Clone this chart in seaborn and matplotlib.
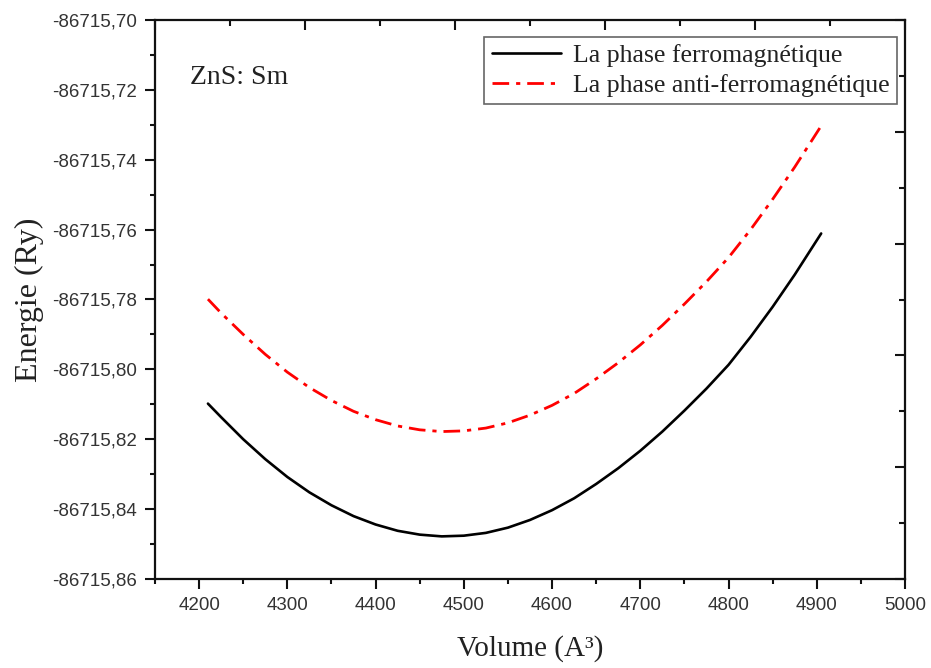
import matplotlib
matplotlib.use("Agg")
import matplotlib.pyplot as plt
import matplotlib.ticker as mticker
import seaborn as sns
import pandas as pd

# ---- data ----
volume = [4210, 4225, 4250, 4275, 4300, 4325, 4350, 4375, 4400, 4425,
          4450, 4475, 4500, 4525, 4550, 4575, 4600, 4625, 4650, 4675,
          4700, 4725, 4750, 4775, 4800, 4825, 4850, 4875, 4905]
energy_ferro = [-86715.8098, -86715.8137, -86715.8200, -86715.8257, -86715.8308,
                -86715.8352, -86715.8389, -86715.8420, -86715.8444, -86715.8462,
                -86715.8473, -86715.8478, -86715.8476, -86715.8468, -86715.8453,
                -86715.8431, -86715.8403, -86715.8369, -86715.8328, -86715.8283,
                -86715.8233, -86715.8178, -86715.8118, -86715.8055, -86715.7987,
                -86715.7907, -86715.7821, -86715.7729, -86715.7611]
energy_antiferro = [-86715.7799, -86715.7839, -86715.7900, -86715.7957, -86715.8008,
                    -86715.8052, -86715.8089, -86715.8120, -86715.8144, -86715.8162,
                    -86715.8173, -86715.8178, -86715.8176, -86715.8168, -86715.8153,
                    -86715.8131, -86715.8103, -86715.8069, -86715.8027, -86715.7981,
                    -86715.7930, -86715.7874, -86715.7813, -86715.7749, -86715.7680,
                    -86715.7600, -86715.7513, -86715.7421, -86715.7303]
label_ferro = "La phase ferromagnétique"
label_antiferro = "La phase anti-ferromagnétique"
annotation = "ZnS: Sm"
x_ticks = [4200, 4300, 4400, 4500, 4600, 4700, 4800, 4900, 5000]
y_ticks = [-86715.86, -86715.84, -86715.82, -86715.80, -86715.78,
           -86715.76, -86715.74, -86715.72, -86715.70]

df = pd.DataFrame({
    "Volume": volume + volume,
    "Energie": energy_ferro + energy_antiferro,
    "Phase": [label_ferro] * len(volume) + [label_antiferro] * len(volume),
})

sns.set_style("ticks")
plt.rcParams["font.family"] = ["Liberation Serif", "DejaVu Serif"]

W, H = 931, 668
fig = plt.figure(figsize=(W / 100, H / 100), dpi=100)
ax = fig.add_axes([155 / W, 1 - 579 / H, 750 / W, 559 / H])

sns.lineplot(data=df[df.Phase == label_ferro], x="Volume", y="Energie",
             color="black", linewidth=1.9, label=label_ferro, ax=ax)
sns.lineplot(data=df[df.Phase == label_antiferro], x="Volume", y="Energie",
             color="#ff0000", linewidth=2.0, label=label_antiferro, ax=ax)
ax.lines[1].set_dashes((6, 2.5, 1.5, 2.5))

ax.set_xlim(4150, 5000)
ax.set_ylim(-86715.86, -86715.70)
ax.xaxis.set_major_locator(mticker.FixedLocator(x_ticks))
ax.xaxis.set_minor_locator(mticker.MultipleLocator(50))
ax.yaxis.set_major_locator(mticker.FixedLocator(y_ticks))
ax.yaxis.set_minor_locator(mticker.MultipleLocator(0.01))
ax.yaxis.set_major_formatter(mticker.FuncFormatter(lambda v, p: f"{v:.2f}".replace(".", ",")))
ax.xaxis.set_major_formatter(mticker.FuncFormatter(lambda v, p: f"{v:.0f}"))

for s in ax.spines.values():
    s.set_linewidth(1.6)
    s.set_color("#111111")
ax.tick_params(axis="both", which="major", direction="out", length=7, width=1.5,
               labelsize=13.5, colors="#111111", labelcolor="#333333", pad=6)
ax.tick_params(axis="both", which="minor", direction="out", length=3.5, width=1.5,
               colors="#111111")
ax.tick_params(top=False, right=False, which="both")
for lbl in ax.get_xticklabels() + ax.get_yticklabels():
    lbl.set_fontfamily("Liberation Sans")

ax.set_xlabel("Volume (A³)", fontsize=21, labelpad=15, color="#222222")
ax.set_ylabel("Energie (Ry)", fontsize=23, labelpad=6, color="#222222")

ax.text(0.047, 0.897, annotation, transform=ax.transAxes, fontsize=20,
        ha="left", va="center", color="#222222")

leg = ax.legend(loc="upper right", fontsize=18.5, frameon=True, fancybox=False,
                edgecolor="#666666", framealpha=1, handlelength=2.7,
                handletextpad=0.45, labelspacing=0.25, borderpad=0.3,
                borderaxespad=0.45, bbox_to_anchor=(1.005, 0.991))
leg.get_frame().set_linewidth(1.2)
for t in leg.get_texts():
    t.set_color("#222222")

# top / right axis ticks (inward, independent scale, no labels)
ax2 = fig.add_axes(ax.get_position(), frameon=False)
ax2.patch.set_visible(False)
ax2.set_xlim(0, 10)
ax2.set_ylim(0, 10)
ax2.xaxis.set_major_locator(mticker.MultipleLocator(2))
ax2.xaxis.set_minor_locator(mticker.MultipleLocator(1))
ax2.yaxis.set_major_locator(mticker.MultipleLocator(2))
ax2.yaxis.set_minor_locator(mticker.MultipleLocator(1))
ax2.tick_params(which="both", direction="in", top=True, right=True, bottom=False,
                left=False, labeltop=False, labelright=False, labelbottom=False,
                labelleft=False, width=1.5, colors="#111111")
ax2.tick_params(which="major", length=7)
ax2.tick_params(which="minor", length=4)

fig.savefig("out.png", dpi=100)
